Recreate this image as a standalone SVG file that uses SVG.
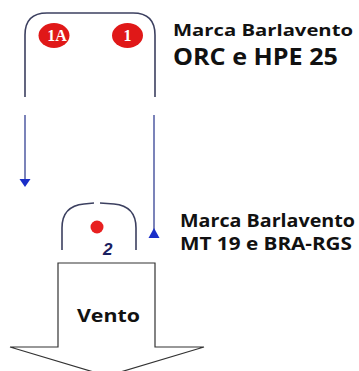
<svg xmlns="http://www.w3.org/2000/svg" width="359" height="371" viewBox="0 0 359 371">
<style>
.loop{fill:none;stroke:#3c4060;stroke-width:1.6}
.conn{fill:none;stroke:#5a64a8;stroke-width:1.6}
.head{fill:#1a2ec8}
.lbl{font-family:"Open Sans","Liberation Sans",sans-serif;font-weight:bold;fill:#111}
.buoy{fill:#e01818}
.num{font-family:"Liberation Serif",serif;font-weight:bold;fill:#fff;font-size:16px;text-anchor:middle}
</style>
<rect width="359" height="371" fill="#fff"/>
<g id="mark-top">
<path class="loop" d="M25,97 V35 Q25,13 47,13 H133 Q155,13 155,35 V97"/>
<ellipse class="buoy" cx="54" cy="35.5" rx="15.5" ry="12.5"/>
<text class="num" x="57" y="41">1A</text>
<ellipse class="buoy" cx="127.5" cy="35.5" rx="15.5" ry="12.5"/>
<text class="num" x="127.5" y="41">1</text>
</g>
<g id="label-top">
<text class="lbl" x="173" y="36" font-size="16" textLength="180" lengthAdjust="spacingAndGlyphs">Marca Barlavento</text>
<text class="lbl" x="173" y="65" font-size="24" textLength="165" lengthAdjust="spacingAndGlyphs">ORC e HPE 25</text>
</g>
<g id="mark-bottom">
<path class="loop" d="M62,250 V228 Q62,206 84,204 L94,203"/>
<path class="loop" d="M100,203 L114,204 Q136,206 136,228 V250"/>
<circle cx="97" cy="227" r="6.5" fill="#e82020"/>
<text x="103" y="255" font-family="Liberation Sans,sans-serif" font-weight="bold" font-style="italic" font-size="17" fill="#1a2060">2</text>
</g>
<g id="label-bottom">
<text class="lbl" x="180" y="227" font-size="17.5" textLength="175" lengthAdjust="spacingAndGlyphs">Marca Barlavento</text>
<text class="lbl" x="180" y="250" font-size="17.5" textLength="172" lengthAdjust="spacingAndGlyphs">MT 19 e BRA-RGS</text>
</g>
<g id="connectors">
<path class="conn" d="M25,115 V180"/>
<polygon class="head" points="19.5,179 30.5,179 25,187"/>
<path class="conn" d="M154,115 V230"/>
<polygon class="head" points="148.5,238 159.5,238 154,228"/>
</g>
<g id="wind">
<polygon points="58,263 155,263 155,347 204,347 107,376 10,347 58,347" fill="#fff" stroke="#333" stroke-width="1.2"/>
<text class="lbl" x="77" y="322" font-size="18" textLength="63" lengthAdjust="spacingAndGlyphs">Vento</text>
</g>
</svg>
